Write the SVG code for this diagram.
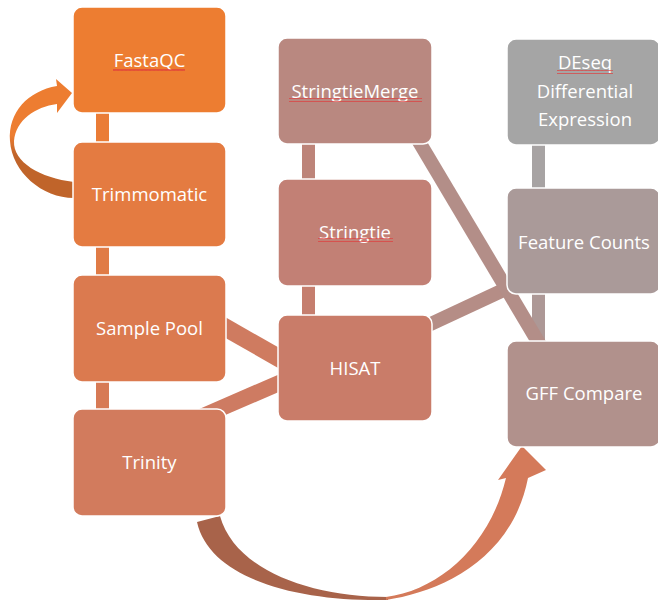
<svg xmlns="http://www.w3.org/2000/svg" width="658" height="605" viewBox="0 0 658 605">
  <defs>
    <style>
      .box { stroke: #ffffff; stroke-width: 1.5; }
      .lbl { font-family: "Open Sans", "Liberation Sans", sans-serif; font-size: 18.5px; fill: #ffffff; text-anchor: middle; }
      .band { fill: none; stroke-linecap: butt; }
    </style>
    <pattern id="squig" width="4" height="4" patternUnits="userSpaceOnUse">
      <path d="M0 3 L1 1 L2 3 L3 1 L4 3" fill="none" stroke="#e03a3a" stroke-width="0.8"/>
    </pattern>
    <linearGradient id="smallArrowGrad" gradientUnits="userSpaceOnUse" x1="0" y1="135" x2="0" y2="155">
      <stop offset="0" stop-color="#ED7D31"/>
      <stop offset="1" stop-color="#C0642A"/>
    </linearGradient>
  </defs>

  <g id="connectors">
    <!-- vertical connectors left -->
    <rect x="96" y="110" width="13" height="35" fill="#EA7C36"/>
    <rect x="96" y="244" width="13" height="34" fill="#E07B46"/>
    <rect x="96" y="379" width="13" height="33" fill="#D77A55"/>
    <!-- vertical connectors middle -->
    <rect x="302" y="141" width="13" height="41" fill="#BD8479"/>
    <rect x="302" y="283" width="13" height="35" fill="#C57E6E"/>
    <!-- vertical connectors right -->
    <rect x="532" y="142" width="13" height="49" fill="#A7A3A3"/>
    <rect x="532" y="291" width="13" height="53" fill="#AD9896"/>
    <!-- diagonal bands -->
    <line class="band" x1="215" y1="321.7" x2="290" y2="364.3" stroke="#CF7B60" stroke-width="18"/>
    <line class="band" x1="195" y1="419.5" x2="290" y2="378.3" stroke="#CE7B62" stroke-width="16"/>
    <line class="band" x1="420" y1="329" x2="520" y2="282.4" stroke="#B58D86" stroke-width="14"/>
    <line class="band" x1="415" y1="135" x2="542" y2="348.4" stroke="#B38E88" stroke-width="14"/>
    <!-- curved arrow: Trimmomatic -> FastaQC -->
    <path id="arrow-trim-fastaqc" d="M 74 182 C 40 178, 13 162, 14 141 C 16 120, 35 107, 57 104 L 57 113 L 72 93 L 56 79 L 57 86 C 28 91, 8 112, 10 141 C 12 172, 42 198, 74 198 Z" fill="url(#smallArrowGrad)"/>
    <!-- curved arrow: Trinity -> GFF Compare -->
    <path id="arrow-trinity-gff-back" d="M 197 522 C 210 580, 300 602, 388 600 L 388 597 C 310 597, 235 570, 220 516 Z" fill="#A8634A"/>
    <path id="arrow-trinity-gff-front" d="M 386 600 C 440 592, 512 560, 528 478 L 546 470 L 522 446 L 498 480 L 506 478 C 490 545, 440 590, 386 597 Z" fill="#D47A5A"/>
  </g>

  <g id="node-fastaqc">
    <rect class="box" x="73" y="7" width="153" height="106" rx="9" fill="#ED7D31"/>
    <text class="lbl" x="149.5" y="66.5">FastaQC</text>
    <rect x="113" y="67" width="72" height="4" fill="url(#squig)"/>
  </g>
  <g id="node-trimmomatic">
    <rect class="box" x="73" y="142" width="153" height="105" rx="9" fill="#E47B41"/>
    <text class="lbl" x="149.5" y="201">Trimmomatic</text>
  </g>
  <g id="node-samplepool">
    <rect class="box" x="73" y="275" width="153" height="107" rx="9" fill="#DB7A4F"/>
    <text class="lbl" x="149.5" y="335">Sample Pool</text>
  </g>
  <g id="node-trinity">
    <rect class="box" x="73" y="409" width="153" height="107" rx="9" fill="#D27B5D"/>
    <text class="lbl" x="149.5" y="469">Trinity</text>
  </g>

  <g id="node-stringtiemerge">
    <rect class="box" x="278" y="38" width="154" height="106" rx="9" fill="#B98880"/>
    <text class="lbl" x="355" y="98">StringtieMerge</text>
    <rect x="289" y="98" width="133" height="4" fill="url(#squig)"/>
  </g>
  <g id="node-stringtie">
    <rect class="box" x="278" y="179" width="154" height="107" rx="9" fill="#C28075"/>
    <text class="lbl" x="355" y="238.5">Stringtie</text>
    <rect x="318" y="238" width="75" height="4" fill="url(#squig)"/>
  </g>
  <g id="node-hisat">
    <rect class="box" x="278" y="315" width="154" height="106" rx="9" fill="#C97C69"/>
    <text class="lbl" x="355" y="375">HISAT</text>
  </g>

  <g id="node-deseq">
    <rect class="box" x="507" y="39" width="153" height="106" rx="9" fill="#A5A5A5"/>
    <text class="lbl" x="585" y="69">DEseq</text>
    <text class="lbl" x="585" y="98">Differential</text>
    <text class="lbl" x="585" y="126">Expression</text>
    <rect x="557" y="70" width="56" height="4" fill="url(#squig)"/>
  </g>
  <g id="node-featurecounts">
    <rect class="box" x="507" y="188" width="153" height="106" rx="9" fill="#AA9A99"/>
    <text class="lbl" x="584" y="249">Feature Counts</text>
  </g>
  <g id="node-gffcompare">
    <rect class="box" x="507" y="341" width="153" height="106" rx="9" fill="#B1918C"/>
    <text class="lbl" x="584" y="400">GFF Compare</text>
  </g>
</svg>
